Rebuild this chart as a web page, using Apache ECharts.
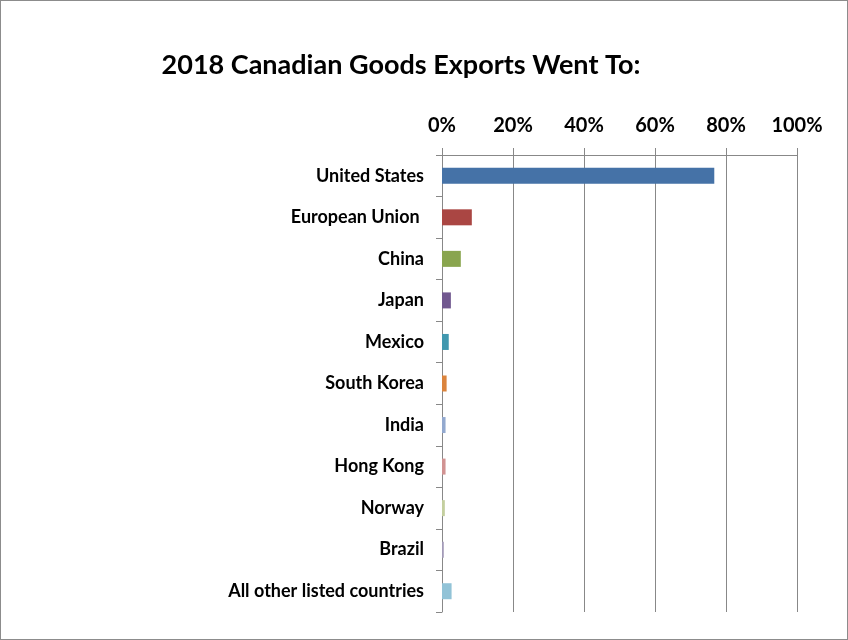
<!DOCTYPE html>
<html>
<head>
<meta charset="utf-8">
<title>2018 Canadian Goods Exports</title>
<script src="https://cdn.jsdelivr.net/npm/echarts@6/dist/echarts.min.js"></script>
<style>
    html, body { margin: 0; padding: 0; background: #fff; }
    #chart {
        width: 848px;
        height: 640px;
        box-sizing: border-box;
        border: 1px solid #8c8c8c;
    }
</style>
</head>
<body>
<div id="chart"></div>
<script>
    "use strict";
    // share of exports, percent
    var countries = ['United States', 'European Union ', 'China', 'Japan', 'Mexico', 'South Korea',
        'India', 'Hong Kong', 'Norway', 'Brazil', 'All other listed countries'];
    var shares = [76.7, 8.4, 5.3, 2.5, 1.9, 1.3, 1.0, 1.0, 0.8, 0.5, 2.7];
    var barColors = ['#4572a7', '#aa4643', '#89a54e', '#71588f', '#4198af', '#db843d',
        '#93a9cf', '#d19392', '#c4cf9f', '#a39bb8', '#92c3d7'];
    var tickValues = [0, 20, 40, 60, 80, 100];

    var myChart = echarts.init(document.getElementById('chart'));
    var fontName = 'Lato';

    myChart.setOption({
        color: barColors,
        animation: false,
        title: {
            text: '2018 Canadian Goods Exports Went To:',
            left: 395,
            top: 46,
            textAlign: 'center',
            textStyle: { fontFamily: fontName, fontSize: 27, fontWeight: 'bold', color: '#000' }
        },
        grid: { left: 441, top: 154, width: 355, bottom: 27, containLabel: false },
        xAxis: {
            type: 'value',
            position: 'top',
            min: tickValues[0],
            max: tickValues[tickValues.length - 1],
            interval: 20,
            axisLine: { show: true, lineStyle: { color: '#888', width: 1 } },
            axisTick: { show: true, length: 7, lineStyle: { color: '#888' } },
            splitLine: { show: true, lineStyle: { color: '#888', width: 1 } },
            axisLabel: {
                margin: 19,
                formatter: '{value}%',
                fontFamily: fontName, fontSize: 20, fontWeight: 'bold', color: '#000'
            }
        },
        yAxis: {
            type: 'category',
            inverse: true,
            data: countries,
            axisLine: { show: true, lineStyle: { color: '#888', width: 1 } },
            axisTick: { show: true, length: 6, alignWithLabel: false, lineStyle: { color: '#888' } },
            axisLabel: {
                margin: 18,
                fontFamily: fontName, fontSize: 18, fontWeight: 'bold', color: '#000'
            }
        },
        series: [{
            type: 'bar',
            data: shares,
            colorBy: 'data',
            barWidth: 16
        }]
    });
</script>
</body>
</html>
